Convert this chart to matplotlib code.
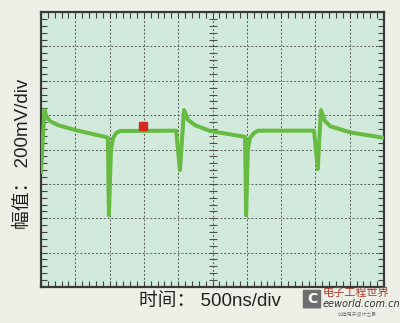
from matplotlib import pyplot as plt
from matplotlib.patches import FancyBboxPatch
import numpy as np

# waveform points (x in divisions 0-10, y in divisions 0-8)
wave_x = [0.00, 0.10, 0.17, 0.26, 0.50, 0.99, 1.95, 1.98, 2.04, 2.10, 2.19, 2.30,
          3.94, 4.05, 4.17, 4.29, 4.49, 4.93, 5.95, 5.98, 6.03, 6.09, 6.21, 6.33,
          7.96, 8.07, 8.16, 8.28, 8.43, 9.01, 9.94, 10.0]
wave_y = [3.35, 5.15, 4.95, 4.83, 4.71, 4.57, 4.35, 2.09, 3.99, 4.33, 4.48, 4.54,
          4.55, 3.40, 5.15, 4.86, 4.71, 4.54, 4.37, 2.09, 3.99, 4.33, 4.48, 4.55,
          4.55, 3.43, 5.15, 4.83, 4.68, 4.50, 4.35, 4.34]
trig_x = [2.97]
trig_y = [4.68]

xlabel = "时间： 500ns/div"
ylabel = "幅值： 200mV/div"

fig = plt.figure(figsize=(4, 3.23), dpi=100)
fig.patch.set_facecolor('#eeefe7')
ax = fig.add_axes([0.1025, 0.1115, 0.8575, 0.851])
ax.set_facecolor('#d2eadb')
ax.set_xlim(0, 10)
ax.set_ylim(0, 8)

# grid
for i in range(1, 10):
    ax.axvline(i, color='#5a5a5a', lw=0.7, ls=(0, (2, 2)), zorder=1)
for j in range(1, 8):
    ax.axhline(j, color='#5a5a5a', lw=0.7, ls=(0, (2, 2)), zorder=1)
# centre axis ticks
cy = np.arange(0.2, 8, 0.2)
ax.plot([5] * len(cy), cy, ls='none', marker='_', ms=6, mew=0.8, color='#505050', zorder=1)

ax.set_xticks(np.arange(0, 10.01, 0.2))
ax.set_yticks(np.arange(0, 8.01, 0.2))
ax.tick_params(direction='in', length=4, width=0.8, color='#404040',
               top=True, right=True, labelbottom=False, labelleft=False)
for s in ax.spines.values():
    s.set_color('#3a3a3a')
    s.set_linewidth(1.6)

ax.plot(wave_x, wave_y, color='#68bb42', lw=2.9, solid_joinstyle='round', zorder=3)
ax.plot(trig_x, trig_y, ls='none', marker='s', ms=6, color='#d42a1e', zorder=4)

fig.text(0.0575, 0.525, ylabel, rotation=90, ha='center', va='center', fontsize=13.5,
         family=['Liberation Sans', 'Noto Sans CJK SC'], color='#222222')
fig.text(0.525, 0.068, xlabel, ha='center', va='center', fontsize=13.5,
         family=['Liberation Sans', 'Noto Sans CJK SC'], color='#222222')

# watermark
fig.patches.append(FancyBboxPatch((0.76, 0.048), 0.04, 0.052, boxstyle='round,pad=0.003',
                                  transform=fig.transFigure, facecolor='#6e6e6e', edgecolor='none'))
fig.text(0.78, 0.074, 'C', ha='center', va='center', fontsize=10, fontweight='bold', color='white')
fig.text(0.8075, 0.093, '电子工程世界', ha='left', va='center', fontsize=8,
         family=['Noto Sans CJK SC'], color='#b03a2e')
fig.text(0.8075, 0.058, 'eeworld.com.cn', ha='left', va='center', fontsize=7,
         style='italic', color='#333333')
fig.text(0.845, 0.030, '创造电子设计之最', ha='left', va='center', fontsize=3.5,
         family=['Noto Sans CJK SC'], color='#777777')

fig.savefig('out.png', dpi=100, facecolor=fig.get_facecolor())
